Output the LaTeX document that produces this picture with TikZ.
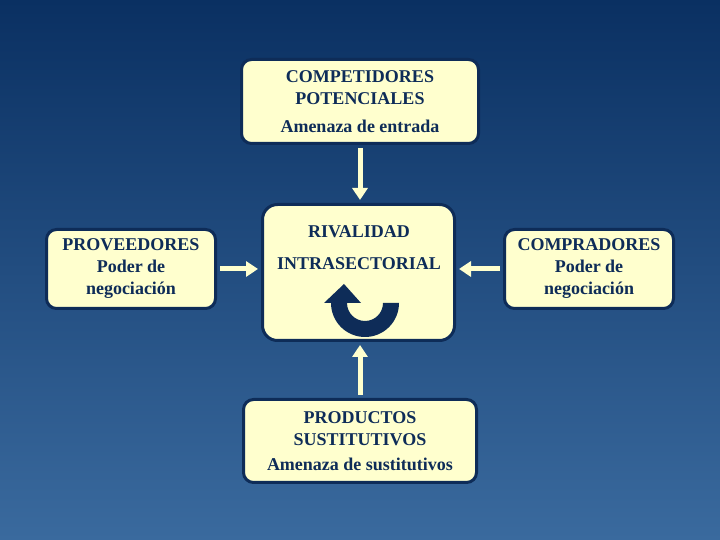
\documentclass[tikz,border=0pt]{standalone}
\usepackage{fontspec}
\setmainfont{Liberation Serif}
\usetikzlibrary{arrows.meta,positioning}
\definecolor{bgtop}{RGB}{10,48,98}
\definecolor{bgbot}{RGB}{58,106,158}
\definecolor{cream}{RGB}{255,255,206}
\definecolor{navy}{RGB}{14,44,88}

\tikzset{
  force/.style={draw=navy, line width=3pt, fill=cream, rounded corners=10pt,
    align=center, text=navy, font=\fontsize{18}{22}\selectfont\bfseries, inner sep=0pt},
  push/.style={draw=cream, line width=5pt, -{Triangle[width=15pt,length=12pt]},
    shorten >=3pt, shorten <=3pt}
}

\begin{document}
\begin{tikzpicture}[x=1pt, y=1pt]

  % background
  \shade[top color=bgtop, bottom color=bgbot] (0,0) rectangle (720,540);
  \useasboundingbox (0,0) rectangle (720,540);

  % the five forces
  \node[force, minimum width=237pt, minimum height=84pt] (compet) at (360,438.5)
    {COMPETIDORES\\POTENCIALES\\[6pt]Amenaza de entrada};
  \node[force, minimum width=169pt, minimum height=79pt] (prov) at (131,271)
    {PROVEEDORES\\Poder de\\negociación};
  \node[force, minimum width=169pt, minimum height=79pt] (compr) at (589,271)
    {COMPRADORES\\Poder de\\negociación};
  \node[force, minimum width=233pt, minimum height=83pt] (sust) at (360,99)
    {PRODUCTOS\\SUSTITUTIVOS\\[3pt]Amenaza de sustitutivos};
  \node[force, rounded corners=15pt, minimum width=192pt, minimum height=136pt] (rivbox) at (358.5,267.5) {};
  \node[align=center, text=navy, font=\fontsize{18}{22}\selectfont\bfseries] (rivtext) at (359,292)
    {RIVALIDAD\\[10pt]INTRASECTORIAL};

  % turning arrow inside the rivalry box
  \fill[navy] (399,237) arc[start angle=0, end angle=-180, radius=34]
    -- (324,237) -- (344,256) -- (361,237) -- (347,237)
    arc[start angle=-180, end angle=0, radius=18] -- cycle;

  % arrows into the rivalry box
  \draw[push] (compet.south) -- (compet.south |- rivbox.north);
  \draw[push] (sust.north) -- (sust.north |- rivbox.south);
  \draw[push] (prov.east) -- (prov.east -| rivbox.west);
  \draw[push] (compr.west) -- (compr.west -| rivbox.east);

\end{tikzpicture}
\end{document}
